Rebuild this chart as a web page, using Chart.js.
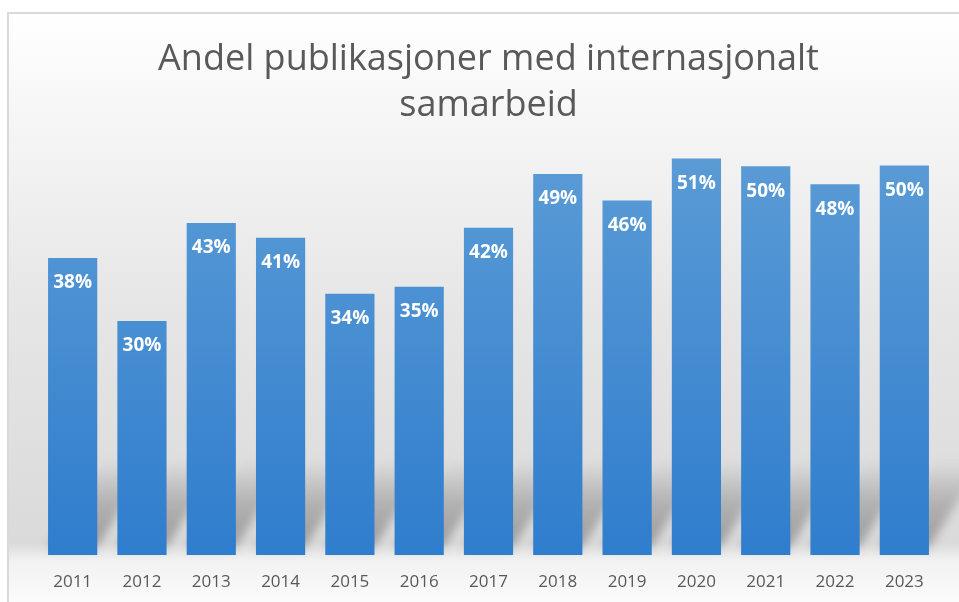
<!DOCTYPE html>
<html>
<head>
<meta charset="utf-8">
<script src="https://cdn.jsdelivr.net/npm/chart.js@4"></script>
<style>
  body { margin: 0; background: #ffffff; }
  #wrap { width: 959px; height: 602px; position: relative; }
</style>
</head>
<body>
<div id="wrap"><canvas id="chart"></canvas></div>
<script>
// data
const years = ['2011', '2012', '2013', '2014', '2015', '2016', '2017',
               '2018', '2019', '2020', '2021', '2022', '2023'];
const shares = [38.2, 30.1, 42.7, 40.8, 33.6, 34.5, 42.1,
                49.0, 45.6, 51.0, 50.0, 47.7, 50.1];
const titleLines = ['Andel publikasjoner med internasjonalt', 'samarbeid'];

// grey frame + soft background gradient
const backgroundPlugin = {
    id: 'background',
    beforeDraw(chart) {
        const ctx = chart.ctx;
        ctx.save();
        const g = ctx.createLinearGradient(0, 13, 0, 602);
        g.addColorStop(0, '#ffffff');
        g.addColorStop(0.2, '#f5f5f5');
        g.addColorStop(0.5, '#e6e6e6');
        g.addColorStop(0.9, '#dadada');
        g.addColorStop(0.93, '#f2f2f2');
        g.addColorStop(1, '#fbfbfb');
        ctx.fillStyle = g;
        ctx.fillRect(8, 13, chart.width, chart.height);
        ctx.strokeStyle = '#d9d9d9';
        ctx.lineWidth = 2;
        ctx.strokeRect(8, 13, chart.width + 10, chart.height + 10);
        ctx.restore();
    }
};

// slanted shadow behind each bar
const shadowPlugin = {
    id: 'barShadow',
    beforeDatasetsDraw(chart) {
        const ctx = chart.ctx;
        const meta = chart.getDatasetMeta(0);
        const base = chart.chartArea.bottom;
        ctx.save();
        ctx.filter = 'blur(5px)';
        const g = ctx.createLinearGradient(0, base - 8, 0, base - 95);
        g.addColorStop(0, 'rgba(80,80,80,0.45)');
        g.addColorStop(0.5, 'rgba(80,80,80,0.3)');
        g.addColorStop(1, 'rgba(80,80,80,0)');
        ctx.fillStyle = g;
        meta.data.forEach(bar => {
            const xl = bar.x - bar.width / 2;
            const xr = bar.x + bar.width / 2;
            ctx.beginPath();
            ctx.moveTo(xl, base - 8);
            ctx.lineTo(xr, base - 8);
            ctx.lineTo(xr + 55, base - 95);
            ctx.lineTo(xl + 55, base - 95);
            ctx.closePath();
            ctx.fill();
        });
        ctx.restore();
    }
};

// white percentage labels inside the top of the bars
const valueLabelPlugin = {
    id: 'valueLabels',
    afterDatasetsDraw(chart) {
        const ctx = chart.ctx;
        const meta = chart.getDatasetMeta(0);
        ctx.save();
        ctx.font = 'bold 19px "Open Sans"';
        ctx.fillStyle = '#ffffff';
        ctx.textAlign = 'center';
        ctx.textBaseline = 'middle';
        meta.data.forEach((bar, i) => {
            ctx.fillText(Math.round(shares[i]) + '%', bar.x, bar.y + 25);
        });
        ctx.restore();
    }
};

const ctx = document.getElementById('chart');

new Chart(ctx, {
    type: 'bar',
    data: {
        labels: years,
        datasets: [{
            data: shares,
            backgroundColor: function (context) {
                const area = context.chart.chartArea;
                if (!area) return '#4a8fd3';
                const g = context.chart.ctx.createLinearGradient(0, area.top, 0, area.bottom);
                g.addColorStop(0, '#5d9dd6');
                g.addColorStop(1, '#2f7dcd');
                return g;
            },
            borderWidth: 0,
            categoryPercentage: 1,
            barPercentage: 0.71
        }]
    },
    options: {
        responsive: true,
        maintainAspectRatio: false,
        animation: false,
        layout: {
            padding: { left: 38, right: 20, top: 0, bottom: 0 }
        },
        plugins: {
            legend: { display: false },
            tooltip: { enabled: false },
            title: {
                display: true,
                text: titleLines,
                color: '#595959',
                font: { family: '"Open Sans"', size: 36, weight: 'normal', lineHeight: 1.3 },
                padding: { top: 36, bottom: 4 }
            }
        },
        scales: {
            y: {
                display: false,
                min: 0,
                max: 54.2
            },
            x: {
                grid: { display: false, drawTicks: false },
                border: { display: false },
                ticks: {
                    color: '#595959',
                    padding: 17,
                    font: { family: '"Open Sans"', size: 17 }
                },
                afterFit(scale) {
                    scale.height = 47;
                }
            }
        }
    },
    plugins: [backgroundPlugin, shadowPlugin, valueLabelPlugin]
});
</script>
</body>
</html>
